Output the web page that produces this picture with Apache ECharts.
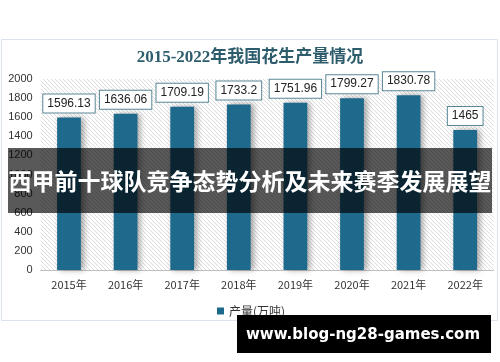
<!DOCTYPE html>
<html>
<head>
<meta charset="utf-8">
<script src="https://cdn.jsdelivr.net/npm/echarts@6/dist/echarts.min.js"></script>
<style>html,body{margin:0;padding:0;background:#fff;}#c{width:500px;height:362px;}</style>
</head>
<body>
<div id="c"></div>
<script>
const categories = ['2015年','2016年','2017年','2018年','2019年','2020年','2021年','2022年'];
const production = [1596.13, 1636.06, 1709.19, 1733.2, 1751.96, 1799.27, 1830.78, 1465];
const yTicks = {min: 0, max: 2000, interval: 200};
const titleText = '2015-2022年我国花生产量情况';
const seriesName = '产量(万吨)';
const bannerText = '西甲前十球队竞争态势分析及未来赛季发展展望';
const watermarkText = 'www.blog-ng28-games.com';

// hatch pattern
const pc = document.createElement('canvas');
pc.width = 4; pc.height = 4;
const ctx = pc.getContext('2d');
ctx.fillStyle = '#ffffff';
ctx.fillRect(0,0,4,4);
ctx.strokeStyle = '#dcdcdc';
ctx.lineWidth = 1;
ctx.beginPath();
ctx.moveTo(-1,-1); ctx.lineTo(5,5);
ctx.moveTo(-1,3); ctx.lineTo(1,5);
ctx.moveTo(3,-1); ctx.lineTo(5,1);
ctx.stroke();

const chart = echarts.init(document.getElementById('c'), null, {renderer: 'canvas'});
chart.setOption({
  backgroundColor: '#ffffff',
  animation: false,
  title: {
    text: titleText,
    left: 'center',
    top: 44,
    textStyle: {fontFamily: 'Liberation Serif, Noto Sans CJK SC', fontWeight: 'bold', fontSize: 17, color: '#2d5d6c'}
  },
  legend: {
    data: [seriesName],
    left: 212,
    top: 300,
    icon: 'rect',
    itemWidth: 7,
    itemHeight: 7,
    itemGap: 5,
    textStyle: {fontSize: 12, color: '#333', fontFamily: 'Noto Sans CJK SC'}
  },
  grid: {
    left: 40.7, right: 6.5, top: 79, bottom: 92,
    show: true,
    backgroundColor: {image: pc, repeat: 'repeat'},
    borderWidth: 0
  },
  xAxis: {
    type: 'category',
    data: categories,
    axisLine: {lineStyle: {color: '#bfbfbf', width: 1}},
    axisTick: {show: false},
    axisLabel: {fontSize: 11, color: '#333', margin: 9, fontFamily: 'Noto Sans CJK SC'}
  },
  yAxis: {
    type: 'value',
    min: yTicks.min, max: yTicks.max, interval: yTicks.interval,
    axisLine: {show: false},
    axisTick: {show: false},
    splitLine: {show: false},
    axisLabel: {fontSize: 11, color: '#333', margin: 8, fontFamily: 'Liberation Sans', formatter: function (v) { return String(v); }}
  },
  series: [{
    name: seriesName,
    type: 'bar',
    data: production,
    barWidth: '42%',
    itemStyle: {
      color: '#1e6a8d',
      shadowColor: 'rgba(0,0,0,0.35)',
      shadowBlur: 6,
      shadowOffsetX: 3,
      shadowOffsetY: 0
    },
    label: {
      show: true,
      position: 'top',
      distance: 5,
      backgroundColor: '#ffffff',
      borderColor: '#5a8796',
      borderWidth: 1,
      padding: [3, 4, 3, 4],
      color: '#222',
      fontSize: 12,
      lineHeight: 12,
      fontFamily: 'Liberation Sans'
    }
  }],
  graphic: [
    {type: 'rect', z: -1, shape: {x: 1.5, y: 39.5, width: 496, height: 281}, style: {fill: 'none', stroke: '#dde3ec', lineWidth: 1}},
    {type: 'rect', z: 100, shape: {x: 8, y: 148, width: 484, height: 65}, style: {fill: 'rgba(0,0,0,0.65)'}},
    {type: 'text', z: 101, left: 'center', top: 170, style: {text: bannerText, fill: '#fff', fontSize: 23, fontWeight: 'bold', fontFamily: 'Noto Sans CJK SC'}},
    {type: 'rect', z: 100, shape: {x: 237, y: 315, width: 254, height: 38}, style: {fill: '#000'}},
    {type: 'text', z: 101, x: 363, y: 335, style: {text: watermarkText, fill: '#fff', fontSize: 15, fontWeight: 'bold', fontFamily: 'DejaVu Sans', textAlign: 'center', textVerticalAlign: 'middle'}}
  ]
});
</script>
</body>
</html>
